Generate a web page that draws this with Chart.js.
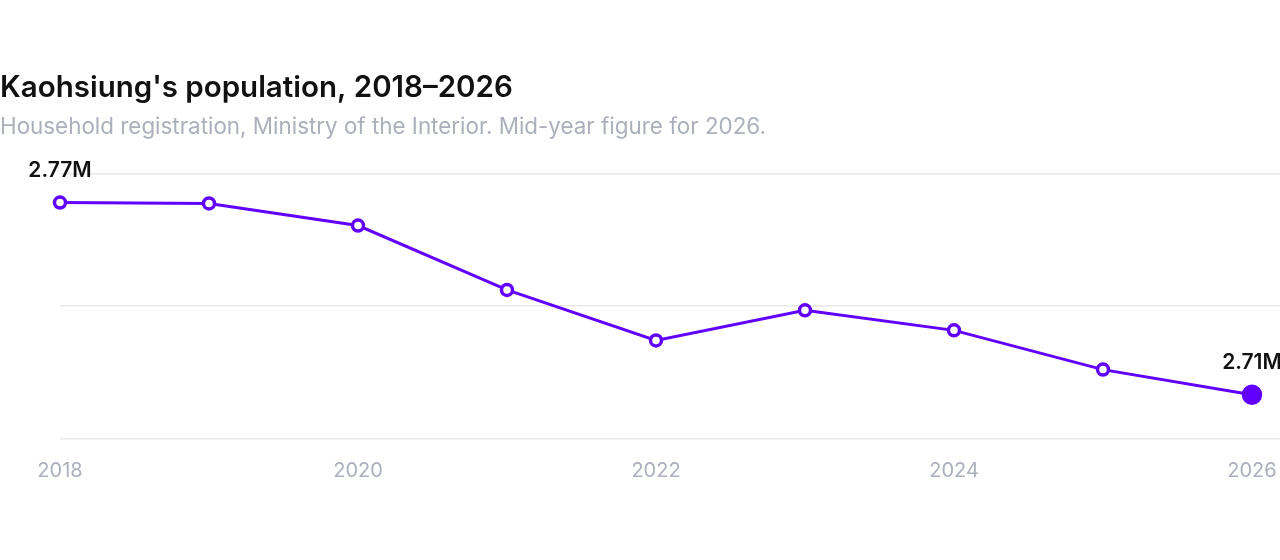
<!DOCTYPE html>
<html>
<head>
<meta charset="utf-8">
<script src="https://cdn.jsdelivr.net/npm/chart.js@4"></script>
<style>
html,body{margin:0;padding:0;background:#fff;}
canvas{display:block;}
</style>
</head>
<body>
<canvas id="c" width="1280" height="560"></canvas>
<script>
const years = [2018, 2019, 2020, 2021, 2022, 2023, 2024, 2025, 2026];
const population = [2.7741, 2.7738, 2.7663, 2.7445, 2.7274, 2.7376, 2.7308, 2.7175, 2.7090];
const xTickYears = [2018, 2020, 2022, 2024, 2026];
const yGridValues = [2.694, 2.739, 2.784];
const labelText = {0: '2.77M', 8: '2.71M'};

const lineColor = '#6200ff';
const last = years.length - 1;

const labelPlugin = {
  id: 'endLabels',
  afterDatasetsDraw(chart) {
    const ctx = chart.ctx;
    const meta = chart.getDatasetMeta(0);
    ctx.save();
    ctx.font = '600 21px Inter';
    ctx.fillStyle = '#111111';
    ctx.textAlign = 'center';
    ctx.textBaseline = 'middle';
    Object.keys(labelText).forEach(k => {
      const p = meta.data[+k];
      ctx.fillText(labelText[k], p.x, p.y - 32);
    });
    ctx.restore();
  }
};

new Chart(document.getElementById('c'), {
  type: 'line',
  data: {
    datasets: [{
      data: years.map((y, i) => ({x: y, y: population[i]})),
      borderColor: lineColor,
      borderWidth: 3,
      pointBackgroundColor: years.map((y, i) => i === last ? lineColor : '#ffffff'),
      pointBorderColor: lineColor,
      pointBorderWidth: 3.5,
      pointRadius: years.map((y, i) => i === last ? 8.5 : 5.5),
      tension: 0,
      clip: false
    }]
  },
  options: {
    responsive: false,
    animation: false,
    devicePixelRatio: 1,
    layout: {autoPadding: false, padding: {left: 0, right: 0, top: 0, bottom: 57}},
    plugins: {
      legend: {display: false},
      tooltip: {enabled: false},
      title: {
        display: true,
        text: "Kaohsiung's population, 2018–2026",
        align: 'start',
        color: '#111111',
        font: {family: 'Inter', size: 29.5, weight: '600', lineHeight: 1.2},
        padding: {top: 70.3, bottom: 8.1}
      },
      subtitle: {
        display: true,
        text: 'Household registration, Ministry of the Interior. Mid-year figure for 2026.',
        align: 'start',
        color: '#abb0bb',
        font: {family: 'Inter', size: 22.4, weight: '400', lineHeight: 1.2},
        padding: {top: 0, bottom: 32.6}
      }
    },
    scales: {
      x: {
        type: 'linear',
        min: 2018,
        max: 2026.188,
        afterBuildTicks(scale) { scale.ticks = xTickYears.map(v => ({value: v})); },
        afterFit(scale) { scale.paddingLeft = 0; scale.paddingRight = 0; },
        grid: {display: false, drawTicks: false},
        border: {display: false},
        ticks: {
          color: '#abb0bb',
          font: {family: 'Inter', size: 20},
          padding: 20,
          maxRotation: 0,
          callback: v => String(v)
        }
      },
      y: {
        min: 2.694,
        max: 2.784,
        afterBuildTicks(scale) { scale.ticks = yGridValues.map(v => ({value: v})); },
        afterFit(scale) { scale.width = 60; },
        grid: {color: '#e8e8e8', lineWidth: 1.5, drawTicks: false},
        border: {display: false},
        ticks: {display: false}
      }
    }
  },
  plugins: [labelPlugin]
});
</script>
</body>
</html>
